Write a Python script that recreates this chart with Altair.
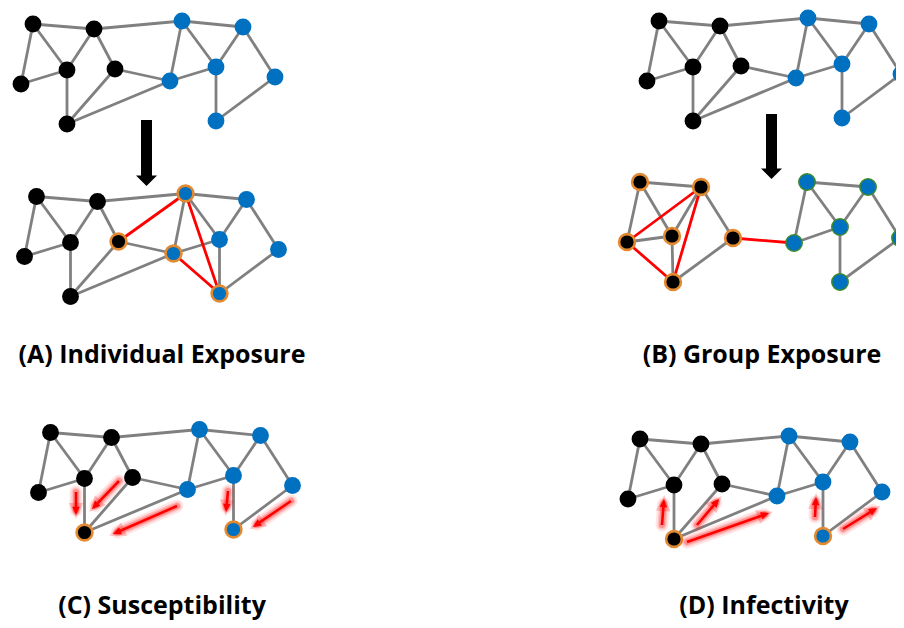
import math
import altair as alt
import pandas as pd

# ---------------- data ----------------
# 12-node network, layout as drawn in panel A (top)
NODE_X = [33, 94, 21, 67, 115, 67, 182, 243, 216, 170, 275, 216]
NODE_Y = [24, 29, 84, 70, 69, 124, 21, 27, 67, 81, 77, 121]
NODE_GROUP = ["black", "black", "black", "black", "black", "black",
              "blue", "blue", "blue", "blue", "blue", "blue"]
EDGE_SRC = [0, 0, 0, 1, 1, 1, 2, 3, 4, 4, 5, 6, 6, 6, 7, 7, 8, 8, 10]
EDGE_DST = [1, 2, 3, 3, 4, 6, 3, 5, 5, 9, 9, 7, 9, 8, 8, 10, 9, 11, 11]

# copies of the network: panel offsets
COPY_NAMES = ["A_before", "A_after", "B_before", "C", "D"]
COPY_DX = [0, 3.5, 626, 17.5, 607]
COPY_DY = [0, 172.5, -3, 408.5, 415]
COPY_ORANGE = [[], [4, 6, 9, 11], [], [5, 11], [5, 11]]
COPY_RED_SRC = [[], [4, 6, 9], [], [], []]
COPY_RED_DST = [[], [6, 11, 11], [], [], []]

# panel B (after): regrouped network
BG_X = [640, 701, 627, 672, 733, 673, 807, 868, 840, 794, 900, 840]
BG_Y = [182, 187, 242, 236, 238, 282, 182, 187, 227, 243, 238, 282]
BG_SRC = [0, 0, 0, 1, 1, 2, 3, 4, 6, 6, 6, 7, 7, 8, 8, 10]
BG_DST = [1, 2, 3, 3, 4, 3, 5, 5, 7, 9, 8, 8, 10, 9, 11, 11]
BG_RED_SRC = [1, 1, 2, 4]
BG_RED_DST = [2, 5, 5, 9]
BG_ORANGE = [0, 1, 2, 3, 4, 5]
BG_GREEN = [6, 7, 8, 9, 10, 11]

# black transition arrows (x, top, tip)
BIG_ARROW_X = [146.5, 771.5]
BIG_ARROW_TOP = [120, 114]
BIG_ARROW_TIP = [186, 179]

# glowing red influence arrows (tail -> tip)
GLOW_FROM_X = [76, 119, 177, 228, 291, 662, 697, 687, 815, 843]
GLOW_FROM_Y = [492, 481, 506, 491, 501, 525, 525, 542, 517, 529]
GLOW_TO_X = [76, 92, 113, 226, 253, 664, 719, 769, 816, 877]
GLOW_TO_Y = [515, 509, 534, 512, 527, 499, 499, 513, 497, 508]

# panel captions
LABELS = ["(A) Individual Exposure", "(B) Group Exposure",
          "(C) Susceptibility", "(D) Infectivity"]
LABEL_X = [162, 762, 162, 764]
LABEL_Y = [363, 363, 614, 614]

# ---------------- tables ----------------
nodes, edges = [], []


def add_network(px, py, src, dst, rsrc, rdst, orange, green):
    for s, d in zip(src, dst):
        edges.append(dict(x=px[s], y=py[s], x2=px[d], y2=py[d], kind="gray"))
    for s, d in zip(rsrc, rdst):
        edges.append(dict(x=px[s], y=py[s], x2=px[d], y2=py[d], kind="red"))
    for i in range(len(px)):
        ring = "orange" if i in orange else ("green" if i in green else "none")
        nodes.append(dict(x=px[i], y=py[i], fill=NODE_GROUP[i], ring=ring))


for k in range(len(COPY_NAMES)):
    px = [v + COPY_DX[k] for v in NODE_X]
    py = [v + COPY_DY[k] for v in NODE_Y]
    add_network(px, py, EDGE_SRC, EDGE_DST, COPY_RED_SRC[k], COPY_RED_DST[k],
                COPY_ORANGE[k], [])
add_network(BG_X, BG_Y, BG_SRC, BG_DST, BG_RED_SRC, BG_RED_DST, BG_ORANGE, BG_GREEN)

nodes_df = pd.DataFrame(nodes)
edges_df = pd.DataFrame(edges)

HEAD_W = 21
HEAD_H = HEAD_W / 2
big = pd.DataFrame(dict(x=BIG_ARROW_X, top=BIG_ARROW_TOP, tip=BIG_ARROW_TIP))
big["shaft_end"] = big["tip"] - HEAD_H + 0.5
big["head_c"] = big["tip"] - HEAD_H / 2

glow = pd.DataFrame(dict(x=GLOW_FROM_X, y=GLOW_FROM_Y, tx=GLOW_TO_X, ty=GLOW_TO_Y))
dx = glow["tx"] - glow["x"]
dy = glow["ty"] - glow["y"]
ln = (dx ** 2 + dy ** 2) ** 0.5
glow["ux"] = dx / ln
glow["uy"] = dy / ln
glow["ex"] = glow["tx"] - glow["ux"] * 5
glow["ey"] = glow["ty"] - glow["uy"] * 5
glow["hx"] = glow["tx"] - glow["ux"] * 4
glow["hy"] = glow["ty"] - glow["uy"] * 4
glow["ang"] = [(math.degrees(math.atan2(a, -b)) + 360) % 360 for a, b in zip(dx, dy)]

labels_df = pd.DataFrame(dict(text=LABELS, x=LABEL_X, y=LABEL_Y))

# ---------------- chart ----------------
W, H = 888, 612
xs = alt.Scale(domain=[8, 8 + W], nice=False, zero=False)
ys = alt.Scale(domain=[8, 8 + H], nice=False, zero=False, reverse=True)


def X(f):
    return alt.X(f, type="quantitative", scale=xs, axis=None)


def Y(f):
    return alt.Y(f, type="quantitative", scale=ys, axis=None)


gray_edges = alt.Chart(edges_df).transform_filter("datum.kind == 'gray'").mark_rule(
    color="#808080", strokeWidth=2.8).encode(x=X("x"), y=Y("y"), x2="x2:Q", y2="y2:Q")
red_edges = alt.Chart(edges_df).transform_filter("datum.kind == 'red'").mark_rule(
    color="#FF0000", strokeWidth=2.8).encode(x=X("x"), y=Y("y"), x2="x2:Q", y2="y2:Q")

fill_scale = alt.Scale(domain=["black", "blue"], range=["#000000", "#0070C0"])

plain_nodes = alt.Chart(nodes_df).transform_filter("datum.ring == 'none'").mark_circle(
    size=283, opacity=1).encode(
    x=X("x"), y=Y("y"), color=alt.Color("fill:N", scale=fill_scale, legend=None))
orange_nodes = alt.Chart(nodes_df).transform_filter("datum.ring == 'orange'").mark_circle(
    size=250, opacity=1, stroke="#E3892F", strokeWidth=2.6).encode(
    x=X("x"), y=Y("y"), color=alt.Color("fill:N", scale=fill_scale, legend=None))
green_nodes = alt.Chart(nodes_df).transform_filter("datum.ring == 'green'").mark_circle(
    size=270, opacity=1, stroke="#3C8A2E", strokeWidth=1.5).encode(
    x=X("x"), y=Y("y"), color=alt.Color("fill:N", scale=fill_scale, legend=None))

big_shaft = alt.Chart(big).mark_rule(color="black", strokeWidth=11, strokeCap="butt").encode(
    x=X("x"), y=Y("top"), y2="shaft_end:Q")
big_head = alt.Chart(big).mark_point(
    shape="M -1 -0.5 L 1 -0.5 L 0 0.5 Z", filled=True, color="black", opacity=1,
    size=HEAD_W ** 2).encode(x=X("x"), y=Y("head_c"))

glow_layers = []
for w, op in [(13, 0.10), (9, 0.16), (6, 0.25)]:
    glow_layers.append(alt.Chart(glow).mark_rule(
        color="#FF0000", strokeWidth=w, opacity=op, strokeCap="round").encode(
        x=X("x"), y=Y("y"), x2="ex:Q", y2="ey:Q"))
glow_layers.append(alt.Chart(glow).mark_point(
    shape="M 0 -1 L 0.9 1 L -0.9 1 Z", filled=True, color="#FF0000", opacity=0.22,
    size=260).encode(x=X("hx"), y=Y("hy"), angle=alt.Angle("ang:Q", scale=None)))
glow_layers.append(alt.Chart(glow).mark_rule(
    color="#FF0000", strokeWidth=2.6, strokeCap="butt").encode(
    x=X("x"), y=Y("y"), x2="ex:Q", y2="ey:Q"))
glow_layers.append(alt.Chart(glow).mark_point(
    shape="M 0 -1 L 0.9 1 L -0.9 1 Z", filled=True, color="#FF0000", opacity=1,
    size=70).encode(x=X("hx"), y=Y("hy"), angle=alt.Angle("ang:Q", scale=None)))

captions = alt.Chart(labels_df).mark_text(
    font="Open Sans", fontWeight="bold", fontSize=25, align="center",
    baseline="alphabetic", color="#000000").encode(x=X("x"), y=Y("y"), text="text:N")

chart = alt.layer(
    gray_edges, red_edges, plain_nodes, orange_nodes, green_nodes,
    big_shaft, big_head, *glow_layers, captions
).properties(
    width=W, height=H, padding=0, background="white",
    autosize=alt.AutoSizeParams(type="none")
).configure_view(stroke="transparent", strokeWidth=0)

chart.save("out.html", embed_options={"renderer": "svg", "actions": False})
